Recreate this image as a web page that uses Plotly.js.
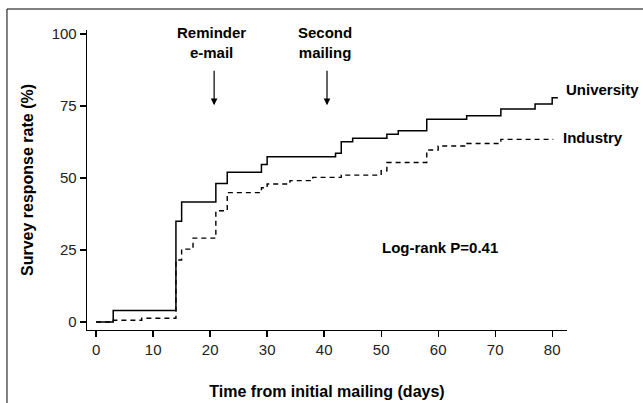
<!DOCTYPE html>
<html>
<head>
<meta charset="utf-8">
<script src="https://cdn.plot.ly/plotly-3.0.1.min.js"></script>
<style>
html,body{margin:0;padding:0;background:#fff;}
#chart{width:643px;height:403px;}
</style>
</head>
<body>
<div id="chart"></div>
<script>
// Kaplan-Meier style cumulative response (step curves)
const uniDays = [0, 3, 14, 15, 21, 23, 29, 30, 42, 43, 45, 51, 53, 58, 65, 71, 77, 80, 81];
const uniRate = [0, 4, 35, 41.7, 48.1, 52, 54.7, 57.4, 58.6, 62.6, 63.8, 65.2, 66.4, 70.4, 71.6, 74, 75.7, 77.9, 77.9];
const indDays = [0, 3, 8, 14, 15, 17, 21, 23, 29, 30, 34, 38, 43, 50, 51, 58, 60, 65, 71, 80.2];
const indRate = [0, 0.6, 1.3, 21.5, 25.3, 29.1, 38.6, 44.9, 46.6, 47.9, 49.1, 50.2, 51.0, 52.5, 55.4, 59.7, 61.1, 62.0, 63.4, 63.4];
const seriesNames = ["University", "Industry"];
const events = ["Reminder<br>e-mail", "Second<br>mailing"];
const eventDays = [20.7, 40.5];
const xTicks = [0, 10, 20, 30, 40, 50, 60, 70, 80];
const yTicks = [0, 25, 50, 75, 100];

const FONT = '"Liberation Sans", Arial, Helvetica, sans-serif';

const traces = [
  {x: uniDays, y: uniRate, name: seriesNames[0], mode: 'lines',
   line: {shape: 'hv', color: '#000', width: 1.5}},
  {x: indDays, y: indRate, name: seriesNames[1], mode: 'lines',
   line: {shape: 'hv', color: '#000', width: 1.4, dash: '5px,4px'}}
];

const annotations = [];
events.forEach((t, i) => {
  annotations.push({x: eventDays[i] - 0.4, y: 97, xref: 'x', yref: 'y', text: '<b>' + t + '</b>',
    showarrow: false, font: {family: FONT, size: 15, color: '#000'}, align: 'center'});
  annotations.push({x: eventDays[i], y: 75.3, ax: eventDays[i], ay: 87.8, axref: 'x', ayref: 'y',
    xref: 'x', yref: 'y', text: '', showarrow: true, arrowhead: 2, arrowsize: 1.1, arrowwidth: 1.2,
    arrowcolor: '#000'});
});
annotations.push({x: 82.1, y: uniRate[uniRate.length - 1] + 2.7, xref: 'x', yref: 'y', xanchor: 'left',
  text: '<b>' + seriesNames[0] + '</b>', showarrow: false, font: {family: FONT, size: 15, color: '#000'}});
annotations.push({x: 81.5, y: indRate[indRate.length - 1] + 0.8, xref: 'x', yref: 'y', xanchor: 'left',
  text: '<b>' + seriesNames[1] + '</b>', showarrow: false, font: {family: FONT, size: 15, color: '#000'}});
annotations.push({x: 60.3, y: 25.7, xref: 'x', yref: 'y', text: '<b>Log-rank P=0.41</b>',
  showarrow: false, font: {family: FONT, size: 15, color: '#000'}});

const layout = {
  width: 643, height: 403,
  margin: {l: 87, r: 76, t: 30, b: 73},
  paper_bgcolor: '#fff', plot_bgcolor: '#fff',
  showlegend: false,
  font: {family: FONT, size: 15, color: '#000'},
  xaxis: {
    range: [-1.6, 82.6], tickvals: xTicks, ticktext: xTicks.map(String),
    showline: true, linecolor: '#000', linewidth: 1.3, showgrid: false, zeroline: false,
    ticks: 'outside', ticklen: 6, tickwidth: 1.3, tickcolor: '#000',
    tickfont: {family: FONT, size: 15, color: '#222'},
    title: {text: '<b>Time from initial mailing (days)</b>', font: {family: FONT, size: 16, color: '#000'}, standoff: 28}
  },
  yaxis: {
    range: [-2.8, 101.4], tickvals: yTicks, ticktext: yTicks.map(String),
    showline: true, linecolor: '#000', linewidth: 1.3, showgrid: false, zeroline: false,
    ticks: 'outside', ticklen: 6, tickwidth: 1.3, tickcolor: '#000',
    tickfont: {family: FONT, size: 15, color: '#222'},
    title: {text: '<b>Survey response rate (%)</b>', font: {family: FONT, size: 16, color: '#000'}, standoff: 14}
  },
  annotations: annotations,
  shapes: [{type: 'rect', xref: 'paper', yref: 'paper', x0: -0.1667, x1: 1.2, y0: -0.3, y1: 1.07,
    line: {color: '#000', width: 1}, fillcolor: 'rgba(0,0,0,0)', layer: 'below'}]
};

Plotly.newPlot('chart', traces, layout, {staticPlot: true, displayModeBar: false});
</script>
</body>
</html>
